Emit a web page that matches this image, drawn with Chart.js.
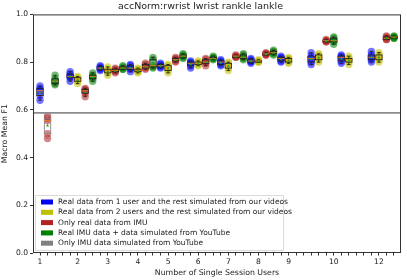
<!DOCTYPE html>
<html>
<head>
<meta charset="utf-8">
<script src="https://cdn.jsdelivr.net/npm/chart.js@4"></script>
<style>
  html, body { margin: 0; padding: 0; background: #fff; }
  #wrap { width: 407px; height: 280px; }
</style>
</head>
<body>
<div id="wrap"><canvas id="chart"></canvas></div>
<script>
// x axis is a row of slots, one per box; only some slots carry a label
const slotCount = 48;
const tickSlots = [0, 5, 9, 13, 17, 21, 25, 29, 33, 39, 45];
const tickLabels = ['1', '2', '3', '4', '5', '6', '7', '8', '9', '10', '12'];

const seriesNames = [
  'Real data from 1 user and the rest simulated from our videos',
  'Real data from 2 users and the rest simulated from our videos',
  'Only real data from IMU',
  'Real IMU data + data simulated from YouTube',
  'Only IMU data simulated from YouTube'
];
const seriesColors = ['#0000ff', '#bfbf00', '#b22222', '#008000', '#808080'];
const pointColors = ['rgba(0,0,255,0.55)', 'rgba(191,191,0,0.55)', 'rgba(178,34,34,0.55)', 'rgba(0,128,0,0.55)', 'rgba(128,128,128,0.55)'];

const blueSlots = [0, 4, 8, 12, 16, 20, 24, 28, 32, 36, 40, 44];
const bluePoints = [
  [0.70, 0.69, 0.68, 0.66, 0.64],
  [0.76, 0.75, 0.74, 0.735, 0.72],
  [0.785, 0.78, 0.775, 0.77, 0.765],
  [0.79, 0.785, 0.775, 0.77, 0.76],
  [0.795, 0.79, 0.785, 0.78, 0.775],
  [0.805, 0.80, 0.795, 0.785, 0.775],
  [0.81, 0.805, 0.80, 0.79, 0.785],
  [0.815, 0.81, 0.805, 0.80, 0.795],
  [0.825, 0.82, 0.815, 0.805, 0.80],
  [0.84, 0.825, 0.815, 0.80, 0.79],
  [0.83, 0.825, 0.82, 0.805, 0.795],
  [0.845, 0.83, 0.82, 0.81, 0.80]
];

const yellowSlots = [5, 9, 13, 17, 21, 25, 29, 33, 37, 41, 45];
const yellowPoints = [
  [0.74, 0.735, 0.725, 0.72, 0.71],
  [0.78, 0.77, 0.765, 0.755, 0.745],
  [0.775, 0.77, 0.765, 0.76, 0.755],
  [0.79, 0.785, 0.775, 0.765, 0.755],
  [0.805, 0.80, 0.795, 0.79, 0.785],
  [0.80, 0.795, 0.785, 0.775, 0.765],
  [0.81, 0.805, 0.805, 0.80, 0.80],
  [0.82, 0.815, 0.81, 0.80, 0.795],
  [0.835, 0.83, 0.82, 0.81, 0.80],
  [0.825, 0.815, 0.81, 0.80, 0.79],
  [0.84, 0.83, 0.82, 0.81, 0.80]
];

const redSlots = [1, 6, 10, 14, 18, 22, 26, 30, 38, 46];
const redPoints = [
  [0.575, 0.565, 0.555, 0.50, 0.48],
  [0.69, 0.685, 0.68, 0.67, 0.655],
  [0.775, 0.77, 0.765, 0.76, 0.755],
  [0.795, 0.79, 0.78, 0.775, 0.77],
  [0.82, 0.815, 0.81, 0.805, 0.80],
  [0.815, 0.81, 0.80, 0.795, 0.785],
  [0.83, 0.825, 0.825, 0.82, 0.82],
  [0.84, 0.835, 0.835, 0.83, 0.83],
  [0.895, 0.89, 0.89, 0.885, 0.885],
  [0.91, 0.905, 0.90, 0.895, 0.895]
];

const greenSlots = [2, 7, 11, 15, 19, 23, 27, 31, 39, 47];
const greenPoints = [
  [0.745, 0.73, 0.72, 0.71, 0.705],
  [0.755, 0.745, 0.74, 0.73, 0.72],
  [0.785, 0.78, 0.775, 0.77, 0.77],
  [0.82, 0.81, 0.785, 0.78, 0.775],
  [0.835, 0.83, 0.825, 0.82, 0.815],
  [0.825, 0.82, 0.815, 0.815, 0.81],
  [0.835, 0.83, 0.82, 0.815, 0.81],
  [0.85, 0.845, 0.84, 0.835, 0.83],
  [0.905, 0.90, 0.89, 0.885, 0.875],
  [0.91, 0.905, 0.905, 0.90, 0.90]
];

const graySlots = [];
const grayPoints = [];

const referenceLine = 0.587;

const allSlots = [blueSlots, yellowSlots, redSlots, greenSlots, graySlots];
const allPoints = [bluePoints, yellowPoints, redPoints, greenPoints, grayPoints];

function quantile(sorted, q) {
  const pos = (sorted.length - 1) * q;
  const lo = Math.floor(pos), hi = Math.ceil(pos);
  return sorted[lo] + (sorted[hi] - sorted[lo]) * (pos - lo);
}

function boxStats(values) {
  const s = values.slice().sort((a, b) => a - b);
  const mean = s.reduce((a, b) => a + b, 0) / s.length;
  return { min: s[0], q1: quantile(s, 0.25), med: quantile(s, 0.5), q3: quantile(s, 0.75), max: s[s.length - 1], mean: mean };
}

const datasets = seriesNames.map((name, i) => ({
  label: name,
  data: allSlots[i].flatMap((slot, j) => allPoints[i][j].map(v => ({ x: slot, y: v }))),
  backgroundColor: pointColors[i],
  borderWidth: 0,
  pointRadius: 3.7,
  pointHoverRadius: 3.7
}));

const boxPlugin = {
  id: 'boxes',
  afterDatasetsDraw(chart) {
    const ctx = chart.ctx;
    const x = chart.scales.x, y = chart.scales.y;
    const area = chart.chartArea;
    ctx.save();
    // reference line
    ctx.strokeStyle = '#8c8c8c';
    ctx.lineWidth = 1.8;
    ctx.beginPath();
    ctx.moveTo(area.left, y.getPixelForValue(referenceLine));
    ctx.lineTo(area.right, y.getPixelForValue(referenceLine));
    ctx.stroke();

    allSlots.forEach((slots, i) => {
      slots.forEach((slot, j) => {
        const st = boxStats(allPoints[i][j]);
        const xl = x.getPixelForValue(slot - 0.42), xr = x.getPixelForValue(slot + 0.42);
        const xc = x.getPixelForValue(slot);
        const cl = x.getPixelForValue(slot - 0.22), cr = x.getPixelForValue(slot + 0.22);
        const edge = (i === 2 && j === 0) ? '#888' : '#222';
        ctx.strokeStyle = edge;
        ctx.lineWidth = 0.9;
        ctx.beginPath();
        ctx.moveTo(xc, y.getPixelForValue(st.q3));
        ctx.lineTo(xc, y.getPixelForValue(st.max));
        ctx.moveTo(cl, y.getPixelForValue(st.max));
        ctx.lineTo(cr, y.getPixelForValue(st.max));
        ctx.moveTo(xc, y.getPixelForValue(st.q1));
        ctx.lineTo(xc, y.getPixelForValue(st.min));
        ctx.moveTo(cl, y.getPixelForValue(st.min));
        ctx.lineTo(cr, y.getPixelForValue(st.min));
        ctx.stroke();
        const yt = y.getPixelForValue(st.q3), yb = y.getPixelForValue(st.q1);
        ctx.strokeRect(xl, yt, xr - xl, Math.max(yb - yt, 1));
        ctx.strokeStyle = '#ff7f0e';
        ctx.beginPath();
        ctx.moveTo(xl, y.getPixelForValue(st.med));
        ctx.lineTo(xr, y.getPixelForValue(st.med));
        ctx.stroke();
        const ym = y.getPixelForValue(st.mean);
        ctx.fillStyle = '#2ca02c';
        ctx.beginPath();
        ctx.moveTo(xc, ym - 1.5);
        ctx.lineTo(xc - 1.5, ym + 1.2);
        ctx.lineTo(xc + 1.5, ym + 1.2);
        ctx.closePath();
        ctx.fill();
      });
    });

    // frame
    ctx.strokeStyle = '#333';
    ctx.lineWidth = 1;
    ctx.strokeRect(area.left + 0.5, area.top + 0.5, area.right - area.left - 1, area.bottom - area.top - 1);

    // legend
    const lx = area.left + 2, ly = area.bottom - 58, lw = 248, lh = 55;
    ctx.fillStyle = 'rgba(255,255,255,0.85)';
    ctx.strokeStyle = '#d0d0d0';
    ctx.lineWidth = 0.8;
    ctx.beginPath();
    ctx.rect(lx + 0.5, ly + 0.5, lw, lh);
    ctx.fill();
    ctx.stroke();
    ctx.font = '7.5px "DejaVu Sans"';
    ctx.textBaseline = 'middle';
    ctx.textAlign = 'left';
    seriesNames.forEach((name, i) => {
      const ry = ly + 7 + i * 10.3;
      ctx.fillStyle = seriesColors[i];
      ctx.fillRect(lx + 6, ry - 2.5, 12, 5);
      ctx.fillStyle = '#222';
      ctx.fillText(name, lx + 23, ry);
    });
    ctx.restore();
  }
};

new Chart(document.getElementById('chart'), {
  type: 'scatter',
  data: { datasets: datasets },
  options: {
    responsive: true,
    maintainAspectRatio: false,
    animation: false,
    events: [],
    layout: { padding: { left: 0, right: 6, top: 0, bottom: 0 } },
    plugins: {
      legend: { display: false },
      tooltip: { enabled: false },
      title: {
        display: true,
        text: 'accNorm:rwrist lwrist rankle lankle',
        color: '#222',
        font: { family: 'DejaVu Sans', size: 9.5, weight: 'normal' },
        padding: { top: 1, bottom: 2 }
      }
    },
    scales: {
      x: {
        type: 'linear',
        min: -0.93,
        max: slotCount - 0.07,
        afterBuildTicks: scale => {
          scale.ticks = Array.from({ length: slotCount }, (_, k) => ({ value: k }));
        },
        afterFit: scale => { scale.height = 27; },
        grid: { drawOnChartArea: false, drawTicks: true, tickLength: 2.5, color: '#333' },
        border: { display: false },
        ticks: {
          autoSkip: false,
          maxRotation: 0,
          padding: 2,
          color: '#222',
          font: { family: 'DejaVu Sans', size: 7.6 },
          callback: v => {
            const k = tickSlots.indexOf(v);
            return k >= 0 ? tickLabels[k] : '';
          }
        },
        title: {
          display: true,
          text: 'Number of Single Session Users',
          color: '#222',
          font: { family: 'DejaVu Sans', size: 7.8 },
          padding: { top: 0, bottom: 2 }
        }
      },
      y: {
        min: 0,
        max: 1,
        afterFit: scale => { scale.width = 33; },
        grid: { drawOnChartArea: false, drawTicks: true, tickLength: 3, color: '#333' },
        border: { display: false },
        ticks: {
          stepSize: 0.2,
          padding: 2,
          color: '#222',
          font: { family: 'DejaVu Sans', size: 7.6 },
          callback: v => v.toFixed(1)
        },
        title: {
          display: true,
          text: 'Macro Mean F1',
          color: '#222',
          font: { family: 'DejaVu Sans', size: 7.8 },
          padding: { top: 0, bottom: 0 }
        }
      }
    }
  },
  plugins: [boxPlugin]
});
</script>
</body>
</html>
